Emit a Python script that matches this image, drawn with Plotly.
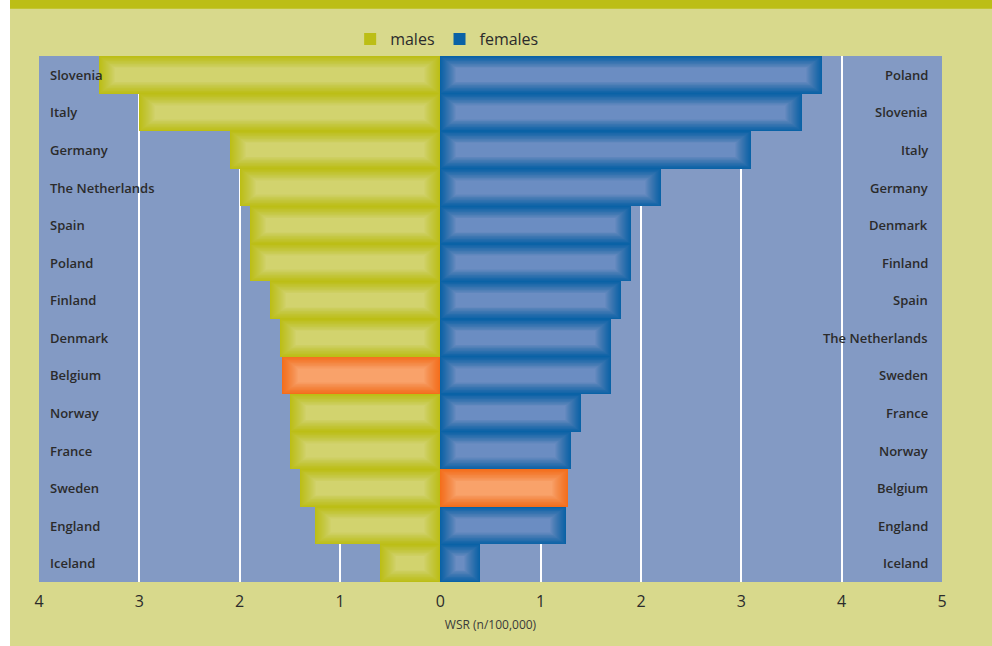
import plotly.graph_objects as go

# Countries ordered by rate, top to bottom, for each sex
male_countries = ["Slovenia", "Italy", "Germany", "The Netherlands", "Spain", "Poland",
                  "Finland", "Denmark", "Belgium", "Norway", "France", "Sweden",
                  "England", "Iceland"]
male_values = [3.4, 3.0, 2.1, 2.0, 1.9, 1.9, 1.7, 1.6, 1.58, 1.5, 1.5, 1.4, 1.25, 0.6]

female_countries = ["Poland", "Slovenia", "Italy", "Germany", "Denmark", "Finland",
                    "Spain", "The Netherlands", "Sweden", "France", "Norway", "Belgium",
                    "England", "Iceland"]
female_values = [3.8, 3.6, 3.1, 2.2, 1.9, 1.9, 1.8, 1.7, 1.7, 1.4, 1.3, 1.27, 1.25, 0.4]

tick_vals = [-4, -3, -2, -1, 0, 1, 2, 3, 4, 5]
tick_text = ["4", "3", "2", "1", "0", "1", "2", "3", "4", "5"]

HIGHLIGHT = "Belgium"

MALE_EDGE, MALE_FILL = "#bcbe16", "#d2d36e"
FEMALE_EDGE, FEMALE_FILL = "#0a62a6", "#6b8dc2"
HL_EDGE, HL_FILL = "#f46e1c", "#f9a26a"

fig = go.Figure()

# coverage profile of the inner glow: linear from the edge to the centre
GLOW_STEPS = 16
coverage = [(k / GLOW_STEPS) ** 1.0 for k in range(GLOW_STEPS + 1)]
alphas = [(coverage[k] - coverage[k - 1]) / (1 - coverage[k - 1])
          for k in range(1, GLOW_STEPS + 1)]


def glow_bars(countries, values, sign, edge, fill, axis, name):
    edges = [HL_EDGE if c == HIGHLIGHT else edge for c in countries]
    fills = [HL_FILL if c == HIGHLIGHT else fill for c in countries]
    # solid bar in the edge colour
    fig.add_trace(go.Bar(
        y=countries, x=[sign * v for v in values], orientation="h",
        marker=dict(color=edges, line=dict(width=0)), width=1.0,
        name=name, yaxis=axis, showlegend=True, hoverinfo="x+y"))
    # progressively inset translucent layers give a soft inner glow
    for k in range(1, GLOW_STEPS + 1):
        inset = 0.010 * k
        w = 1.0 - 0.040 * k
        fig.add_trace(go.Bar(
            y=countries,
            x=[sign * max(v - 2 * inset, 0.0) for v in values],
            base=[sign * inset] * len(values),
            orientation="h", width=w,
            marker=dict(color=fills, opacity=alphas[k - 1], line=dict(width=0)),
            yaxis=axis, showlegend=False, hoverinfo="skip"))


glow_bars(male_countries, male_values, -1, MALE_EDGE, MALE_FILL, "y", "males")
glow_bars(female_countries, female_values, 1, FEMALE_EDGE, FEMALE_FILL, "y2", "females")

label_font = dict(family="Open Sans", size=13, color="#2b2b2b", weight=600)

# country names written inside the plot area, males on the left, females on the right
annotations = []
for c in male_countries:
    annotations.append(dict(text=c, xref="paper", x=0, xanchor="left", xshift=9,
                            yref="y", y=c, yanchor="middle", showarrow=False,
                            font=label_font))
for c in female_countries:
    annotations.append(dict(text=c, xref="paper", x=1, xanchor="right", xshift=-12,
                            yref="y2", y=c, yanchor="middle", showarrow=False,
                            font=label_font))

fig.update_layout(
    width=992, height=646,
    margin=dict(l=39, r=50, t=56, b=64),
    paper_bgcolor="#d8d98c",
    plot_bgcolor="#839ac4",
    barmode="overlay",
    bargap=0,
    showlegend=True,
    legend=dict(orientation="h", x=0.452, xanchor="center", y=1.0, yanchor="bottom",
                font=dict(family="Open Sans", size=16, color="#2b2b2b"),
                bgcolor="rgba(0,0,0,0)", itemwidth=30, tracegroupgap=0),
    annotations=annotations,
    xaxis=dict(range=[-4, 5], tickvals=tick_vals, ticktext=tick_text,
               showgrid=True, gridcolor="#ffffff", gridwidth=2, zeroline=False,
               showline=False, ticks="", ticklabelstandoff=8,
               tickfont=dict(family="Open Sans", size=16, color="#2b2b2b"),
               title=dict(text="WSR (n/100,000)", standoff=9,
                          font=dict(family="Open Sans", size=12, color="#3a3a3a")),
               fixedrange=True),
    yaxis=dict(categoryorder="array", categoryarray=male_countries, autorange="reversed",
               showgrid=False, zeroline=False, showline=False,
               showticklabels=False, ticks="", fixedrange=True),
    yaxis2=dict(categoryorder="array", categoryarray=female_countries, autorange="reversed",
                overlaying="y", side="right", showgrid=False, zeroline=False, showline=False,
                showticklabels=False, ticks="", fixedrange=True),
    shapes=[
        # white strip along the left edge of the page
        dict(type="rect", xref="paper", yref="paper", x0=-0.05, x1=-0.0321,
             y0=-0.2, y1=1.2, fillcolor="#ffffff", line=dict(width=0), layer="below"),
        # olive band along the top of the page
        dict(type="rect", xref="paper", yref="paper", x0=-0.0321, x1=1.1,
             y0=1.0898, y1=1.2, fillcolor="#bcbe16", line=dict(width=0), layer="below"),
    ],
)

fig.write_html("out.html")
